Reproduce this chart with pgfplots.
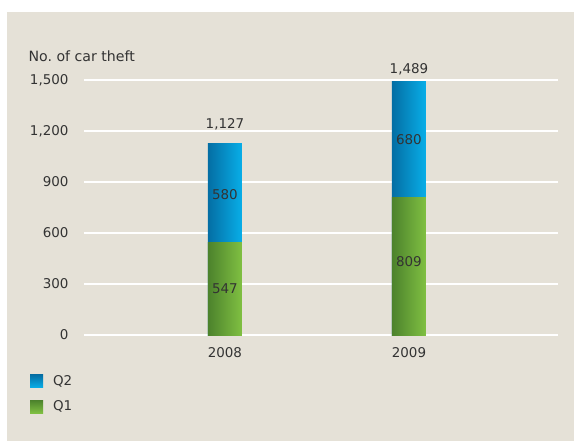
\documentclass[border=0pt]{standalone}
\usepackage{pgfplots}
\pgfplotsset{compat=1.18}
\usepackage{fontspec}
\setmainfont{DejaVu Sans}
\definecolor{bgc}{RGB}{229,225,215}
\definecolor{txt}{RGB}{51,51,51}
\definecolor{blueL}{RGB}{4,110,164}
\definecolor{blueR}{RGB}{8,174,232}
\definecolor{greenL}{RGB}{76,130,44}
\definecolor{greenR}{RGB}{128,192,66}
\pgfplotsset{
    q2bar/.style={ybar, bar width=34bp, draw=none, left color=blueL, right color=blueR,
        legend image code/.code={\shade[top color=blueL, bottom color=blueR] (0bp,-6.5bp) rectangle (13bp,6.5bp);}},
    q1bar/.style={ybar, bar width=34bp, draw=none, left color=greenL, right color=greenR,
        legend image code/.code={\shade[top color=greenL, bottom color=greenR] (0bp,-6.5bp) rectangle (13bp,6.5bp);}},
    total/.style={draw=none, forget plot, nodes near coords, point meta=y,
        every node near coord/.style={anchor=south, text=txt, yshift=#1}},
}
\begin{document}
\begin{tikzpicture}[font=\fontsize{13.5}{15}\selectfont, text=txt]
\fill[white] (-84bp,-106bp) rectangle (490bp,335bp);
\fill[bgc] (-77bp,-106bp) rectangle (490bp,323bp);
\begin{axis}[
    scale only axis,
    width=474bp, height=255bp,
    xmin=-0.766, xmax=1.81,
    ymin=0, ymax=1500,
    axis line style={draw=none},
    tick style={draw=none},
    ymajorgrids,
    grid style={white, line width=2.5bp},
    xtick={0,1}, xticklabels={2008,2009},
    ytick={0,300,...,1500},
    /pgf/number format/.cd, 1000 sep={,}, assume math mode=true,
    /pgfplots/.cd,
    yticklabel style={text=txt, xshift=-12bp},
    xticklabel style={text=txt, yshift=-9bp},
    legend style={at={(-0.114,-0.15)}, anchor=north west, draw=none, fill=none,
        inner sep=0pt, row sep=10bp, column sep=8bp, text=txt,
        font=\fontsize{13.5}{15}\selectfont},
    legend cell align=left,
]
% each bar is its own plot so that its shading runs across that bar only;
% the blue bar stands for Q1+Q2 and the green Q1 bar is drawn over it
\addplot[q2bar] coordinates {(0,1127)};
\addlegendentry{Q2}
\addplot[q1bar] coordinates {(0,547)};
\addlegendentry{Q1}
\addplot[q2bar, forget plot] coordinates {(1,1489)};
\addplot[q1bar, forget plot] coordinates {(1,809)};
% segment labels
\addplot[draw=none, forget plot, nodes near coords, point meta=explicit symbolic,
    every node near coord/.style={anchor=center, text=txt}]
    coordinates {(0,273.5)[547] (1,430)[809] (0,825)[580] (1,1149)[680]};
% totals
\addplot[total=10bp] coordinates {(0,1127)};
\addplot[total=3bp] coordinates {(1,1489)};
\end{axis}
\node[anchor=west, text=txt, font=\fontsize{14.2}{16}\selectfont] at (-59bp,279bp) {No.\ of car theft};
\pgfresetboundingbox
\path (-84bp,-106bp) rectangle (490bp,335bp);
\end{tikzpicture}
\end{document}
